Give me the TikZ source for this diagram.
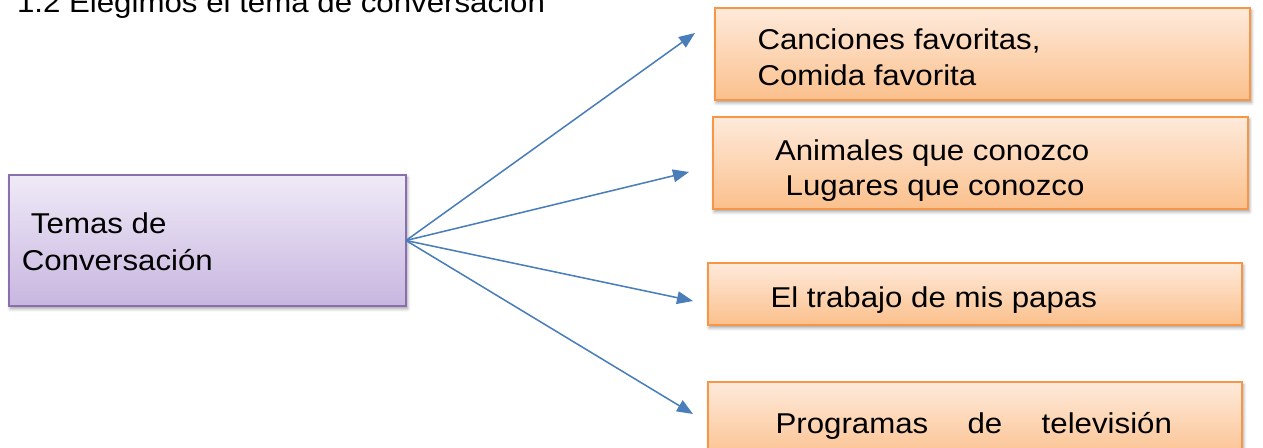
\documentclass[tikz,border=0pt]{standalone}
\usepackage{fontspec}
\setmainfont{Liberation Sans}[FakeStretch=1.09]
\usetikzlibrary{arrows.meta,shadows.blur}
\definecolor{obord}{HTML}{F79646}
\definecolor{otop}{HTML}{FEEADB}
\definecolor{obot}{HTML}{FBC08C}
\definecolor{pbord}{HTML}{8A6FAF}
\definecolor{ptop}{HTML}{EFEAF7}
\definecolor{pbot}{HTML}{C8B6E0}
\definecolor{arr}{HTML}{4A7EBB}
\begin{document}
\begin{tikzpicture}[x=0.75pt,y=-0.75pt,
  every node/.style={inner sep=0pt, outer sep=0pt},
  txt/.style={font=\fontsize{21.5pt}{27pt}\selectfont, anchor=base west},
  shade/.style={blur shadow={shadow xshift=1pt, shadow yshift=-2pt, shadow blur radius=2.5pt, shadow opacity=40}},
  obox/.style={shade, draw=obord, line width=1.5pt, top color=otop, bottom color=obot, anchor=north west},
  pbox/.style={shade, draw=pbord, line width=1.5pt, top color=ptop, bottom color=pbot, anchor=north west},
  conn/.style={draw=arr, line width=1.15pt, -{Triangle[length=12pt,width=9.5pt]}}
]
\useasboundingbox (0,0) rectangle (1263,447);
\node[pbox, minimum width=297.75pt, minimum height=98.25pt] (tema) at (9,175) {};
\node[obox, minimum width=401.25pt, minimum height=69pt] (b1) at (715,8) {};
\node[obox, minimum width=401.25pt, minimum height=69pt] (b2) at (713,117) {};
\node[obox, minimum width=400.5pt, minimum height=46.5pt] (b3) at (708,263) {};
\node[obox, minimum width=400.5pt, minimum height=60pt] (b4) at (708,382) {};

\node[txt] (title) at (17,12.5) {1.2 Elegimos el tema de conversación};
\node[txt] (tema1) at (31,233.3) {Temas de};
\node[txt] (tema2) at (21.8,270.7) {Conversación};
\node[txt] (c1) at (757.5,49.3) {Canciones favoritas,};
\node[txt] (c2) at (757.5,85) {Comida favorita};
\node[txt] (a1) at (775,160) {Animales que conozco};
\node[txt] (a2) at (785.7,195) {Lugares que conozco};
\node[txt] (e1) at (770.5,307) {El trabajo de mis papas};
\node[txt] (p1) at (775.5,433) {Programas\hspace{29.5pt}de\hspace{29.5pt}televisión};

\coordinate (t1) at (695,33);
\coordinate (t2) at (689,172);
\coordinate (t3) at (693,301);
\coordinate (t4) at (693,414);
\foreach \t in {t1,t2,t3,t4} \draw[conn] (tema.east) -- (\t);
\end{tikzpicture}
\end{document}
